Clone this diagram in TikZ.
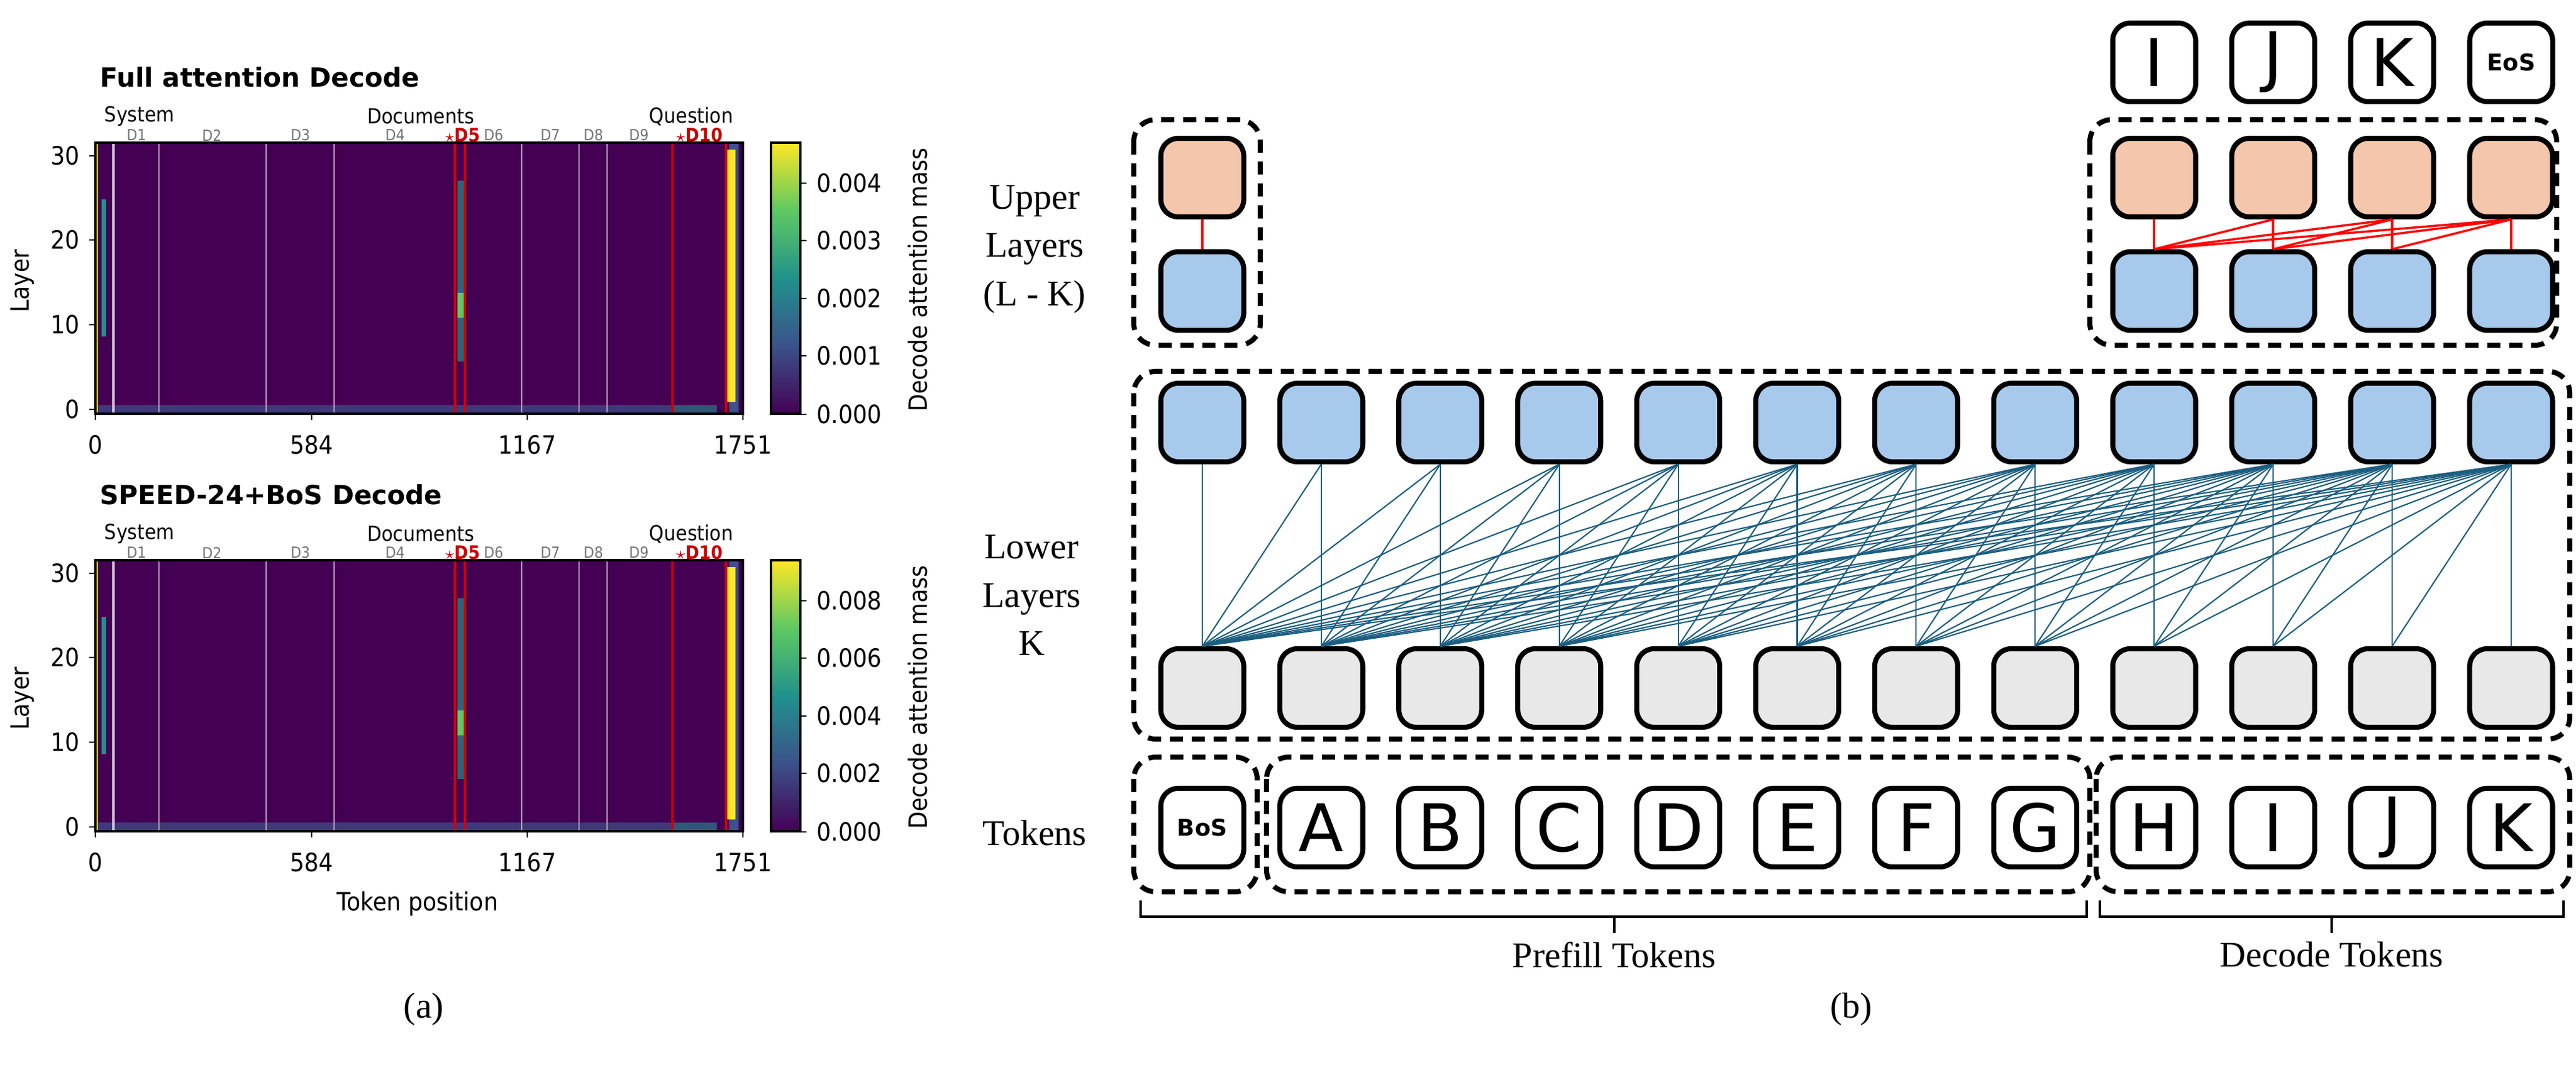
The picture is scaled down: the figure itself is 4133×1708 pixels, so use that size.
\documentclass[tikz,border=0pt]{standalone}
\usepackage{fontspec}
\setmainfont{Liberation Serif}
\newfontfamily\dvs{DejaVu Sans}
\newfontfamily\dvsc{DejaVu Sans Condensed}
\begin{document}
\begin{tikzpicture}[x=0.01cm,y=-0.01cm,
  nd/.style={draw=black,line width=2.3pt,rounded corners=0.28cm,minimum width=1.33cm,minimum height=1.26cm,inner sep=0pt},
  bl/.style={nd,fill=blueN},
  pc/.style={nd,fill=peachN},
  gr/.style={nd,fill=grayN},
  tk/.style={nd,fill=white,font=\dvs\fontsize{30}{30}\selectfont},
  dbox/.style={draw=black,line width=2.3pt,dash pattern=on 6pt off 4pt,rounded corners=0.35cm},
  lk/.style={draw=linkC,line width=0.6pt},
  rk/.style={draw=red,line width=1pt},
  lab/.style={font=\fontsize{16.5}{22}\selectfont,align=center},
  tl/.style={font=\dvsc\fontsize{11.5}{11.5}\selectfont},
  gl/.style={font=\dvsc\fontsize{9.5}{9.5}\selectfont},
  dl/.style={font=\dvsc\fontsize{7}{7}\selectfont,text=gray!90!black},
  rl/.style={font=\dvsc\bfseries\fontsize{8.5}{8.5}\selectfont,text=red!80!black}]
\definecolor{blueN}{HTML}{A7CAEC}
\definecolor{peachN}{HTML}{F4C7AD}
\definecolor{grayN}{HTML}{E8E8E8}
\definecolor{linkC}{HTML}{1B5E80}
\definecolor{vir0}{HTML}{440154}
\definecolor{vir1}{HTML}{3B528B}
\definecolor{vir2}{HTML}{21918C}
\definecolor{vir3}{HTML}{5EC962}
\definecolor{vir4}{HTML}{FDE725}
\useasboundingbox (0,0) rectangle (4133,1708);
% ---------------- panel (b) ----------------
\foreach \i in {0,...,11} {
  \pgfmathsetmacro{\xx}{1929+190.9*\i}
  \node[bl] (b\i) at (\xx,678) {};
  \node[gr] (g\i) at (\xx,1104) {};
}
\foreach \i/\t in {1/A,2/B,3/C,4/D,5/E,6/F,7/G,8/H,9/I,10/J,11/K} {
  \pgfmathsetmacro{\xx}{1929+190.9*\i}
  \node[tk] (t\i) at (\xx,1328) {\t};
}
\node[tk,font=\dvs\bfseries\fontsize{10.5}{10.5}\selectfont] (t0) at (1929,1328) {BoS};
% upper
\node[pc] (up0) at (1929,285) {};
\node[bl] (ub0) at (1929,467) {};
\draw[rk] (up0.south) -- (ub0.north);
\foreach \i in {8,...,11} {
  \pgfmathsetmacro{\xx}{1929+190.9*\i}
  \node[pc] (up\i) at (\xx,285) {};
  \node[bl] (ub\i) at (\xx,467) {};
}
\foreach \i/\t in {8/I,9/J,10/K} {
  \pgfmathsetmacro{\xx}{1929+190.9*\i}
  \node[tk] (o\i) at (\xx,100) {\t};
}
\node[tk,font=\dvs\bfseries\fontsize{10.5}{10.5}\selectfont] (o11) at (4029,100) {EoS};
\foreach \j in {8,...,11} {
  \foreach \i in {8,...,\j} {
    \draw[rk] (up\j.south) -- (ub\i.north);
  }
}
% lower causal links
\foreach \j in {0,...,11} {
  \foreach \i in {0,...,\j} {
    \draw[lk] (b\j.south) -- (g\i.north);
  }
}
% dashed boxes
\draw[dbox] (1819,192) rectangle (2022,554);
\draw[dbox] (3353,192) rectangle (4102,554);
\draw[dbox] (1819,596) rectangle (4123,1186);
\draw[dbox] (1819,1215) rectangle (2017,1431);
\draw[dbox] (2032,1215) rectangle (3353,1431);
\draw[dbox] (3363,1215) rectangle (4123,1431);
% braces
\coordinate (pb1) at (1830,1445); \coordinate (pb2) at (3348,1445);
\draw[line width=1.2pt] (pb1) -- ++(0,26) -| (pb2);
\draw[line width=1.2pt] (2590,1471) -- (2590,1497);
\node[lab] (pt) at (2590,1532) {Prefill Tokens};
\coordinate (db1) at (3369,1445); \coordinate (db2) at (4113,1445);
\draw[line width=1.2pt] (db1) -- ++(0,26) -| (db2);
\draw[line width=1.2pt] (3741,1471) -- (3741,1497);
\node[lab] (dt) at (3741,1532) {Decode Tokens};
% left labels
\node[lab] (ul) at (1660,400) {Upper\\Layers\\(L - K)};
\node[lab] (ll) at (1655,955) {Lower\\Layers\\K};
\node[lab] (tl) at (1660,1337) {Tokens};
\node[lab] (lb) at (2970,1708-0) [anchor=south,yshift=0.5cm] {(b)};
\node[lab] (la) at (680,1708) [anchor=south,yshift=0.5cm] {(a)};
% ---------------- panel (a) ----------------
\foreach \k/\oy/\ttl/\ca/\cb/\cc/\cd/\ce in {0/0/Full attention Decode/0.004/0.003/0.002/0.001/0.000, 1/670/SPEED-24+BoS Decode/0.008/0.006/0.004/0.002/0.000} {
  \begin{scope}[yshift=-\oy*0.01cm]
  \fill[vir0] (153,229) rectangle (1192,664);
  \fill[vir1!70!vir0] (153,650) rectangle (1140,662);
  \fill[vir2!60!vir0] (1080,650) rectangle (1150,662);
  \foreach \x in {182,255,427,536,837,929,974} \draw[white!60!vir0,line width=0.5pt] (\x,229) -- (\x,664);
  \draw[white!80!vir0,line width=1.2pt] (182,229) -- (182,664);
  \fill[vir2!70!vir0] (734,290) rectangle (744,580);
  \fill[vir3] (734,470) rectangle (744,510);
  \fill[vir1] (1170,229) rectangle (1185,664);
  \fill[vir4] (1166,240) rectangle (1180,645);
  \fill[vir2] (163,320) rectangle (170,540);
  \fill[vir4] (155,229) rectangle (157,664);
  \foreach \x in {730,746,1079,1165} \draw[red!80!black,line width=1pt] (\x,229) -- (\x,664);
  \draw[line width=1.2pt] (153,229) rectangle (1192,664);
  % ticks
  \foreach \y/\t in {250/30,385/20,521/10,657/0} {
    \draw[line width=0.8pt] (153,\y) -- (143,\y);
    \node[tl,anchor=east] (yt\k\t) at (140,\y) {\t};
  }
  \foreach \x/\t in {153/0,500/584,846/1167,1192/1751} {
    \draw[line width=0.8pt] (\x,664) -- (\x,674);
    \node[tl] (xt\k\t) at (\x,714) {\t};
  }
  \node[tl,rotate=90] (yl\k) at (36,451) {Layer};
  \node[font=\dvs\bfseries\fontsize{12}{12}\selectfont,anchor=west] (ti\k) at (148,124) {\ttl};
  % group labels
  \node[gl] (s\k) at (224,187) {System};
  \node[gl] (d\k) at (675,187) {Documents};
  \node[gl] (q\k) at (1109,187) {Question};
  \foreach \x/\t in {219/D1,340/D2,482/D3,634/D4,792/D6,883/D7,952/D8,1025/D9} \node[dl] at (\x,217) {\t};
  \node[rl] at (742,217) {$\star$D5};
  \node[rl] at (1122,217) {$\star$D10};
  % colorbar
  \shade[bottom color=vir0,top color=vir1] (1237,664) rectangle (1284,555);
  \shade[bottom color=vir1,top color=vir2] (1237,555) rectangle (1284,447);
  \shade[bottom color=vir2,top color=vir3] (1237,447) rectangle (1284,338);
  \shade[bottom color=vir3,top color=vir4] (1237,338) rectangle (1284,229);
  \draw[line width=1pt] (1237,229) rectangle (1284,664);
  \foreach \y/\t in {294/\ca,386/\cb,479/\cc,571/\cd,665/\ce} {
    \draw[line width=0.8pt] (1284,\y) -- (1294,\y);
    \node[tl,anchor=west] at (1298,\y) {\t};
  }
  \node[tl,rotate=90] (cl\k) at (1472,449) {Decode attention mass};
  \end{scope}
}
\node[tl] (xl) at (670,1450) {Token position};
\end{tikzpicture}
\end{document}
